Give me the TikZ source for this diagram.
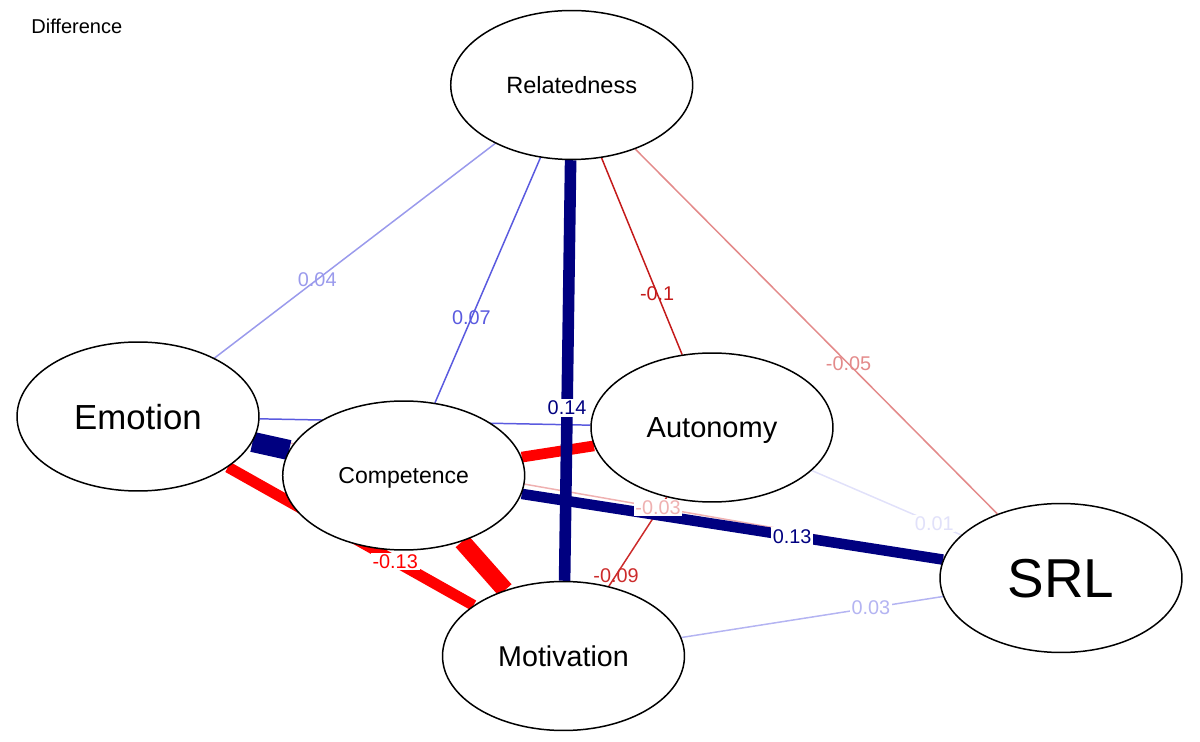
\documentclass[tikz,border=0pt]{standalone}
\usepackage{fontspec}
\setmainfont{Liberation Sans}
\usetikzlibrary{shapes,arrows,positioning,backgrounds}
\definecolor{navyedge}{HTML}{000080}
\definecolor{blue07}{HTML}{5A5ADF}
\definecolor{blue04}{HTML}{9A9AEC}
\definecolor{blue03}{HTML}{B4B4F2}
\definecolor{blue01}{HTML}{E1E1FA}
\definecolor{red10}{HTML}{C41A1A}
\definecolor{red09}{HTML}{CC2B2B}
\definecolor{red05}{HTML}{E38A8A}
\definecolor{red03}{HTML}{EFB1B1}
\definecolor{redfull}{HTML}{FF0000}
\tikzstyle{factor} = [ellipse, draw, fill = white, line width = 0.85pt, minimum width = 4.84cm, minimum height = 2.98cm, inner sep = 0pt, text depth = 0pt]
\tikzstyle{line} = [draw, line width = 0.85pt]
\tikzstyle{weight} = [font = \fontsize{11.3}{13}\selectfont, inner sep = 1pt, text depth = 0pt]
\tikzstyle{boxed weight} = [weight, fill = white]
\begin{document}
\begin{tikzpicture}[x = 0.02cm, y = -0.02cm]
			\useasboundingbox (0, 0) rectangle (1200, 742);
			\node [anchor = west, inner sep = 0pt, text depth = 0pt, font = \fontsize{11.4}{13}\selectfont] (title) at (31, 26) {Difference};
			% Place nodes
			\node [factor, font = \fontsize{13.4}{15}\selectfont] (rel) at (571.7, 85) {Relatedness};
			\node [factor, font = \fontsize{19.8}{22}\selectfont] (emo) at (138, 416.5) {Emotion};
			\node [factor, font = \fontsize{13.1}{15}\selectfont] (com) at (403.7, 475.5) {Competence};
			\node [factor, font = \fontsize{16.5}{19}\selectfont] (aut) at (712, 427.5) {Autonomy};
			\node [factor, font = \fontsize{31.2}{34}\selectfont] (srl) at (1061, 578) {SRL};
			\node [factor, font = \fontsize{16.3}{19}\selectfont] (mot) at (563.5, 656) {Motivation};
			% Draw edges
			\begin{scope}[on background layer]
			\path [line, draw = blue04] (rel) -- node [weight, text = blue04, pos = 0.634] {0.04} (emo);
			\path [line, draw = blue07] (rel) -- node [weight, text = blue07, pos = 0.654] {0.07} (com);
			\path [line, draw = red10] (rel) -- node [weight, text = red10, pos = 0.69] {-0.1} (aut);
			\path [line, draw = red05] (rel) -- node [weight, text = red05, pos = 0.589] {-0.05} (srl);
			\path [line, draw = blue07] (emo) -- (aut);
			\path [line, draw = red09] (aut) -- node [weight, text = red09, pos = 0.875] {-0.09} (mot);
			\path [line, draw = blue01] (aut) -- node [boxed weight, text = blue01, pos = 0.82] {0.01} (srl);
			\path [line, draw = blue03] (mot) -- node [boxed weight, text = blue03, pos = 0.724] {0.03} (srl);
			\path [line, draw = red03] (emo) -- (srl);
			\path [line, draw = redfull, line width = 6.1pt] (com) -- (aut);
			\path [line, draw = navyedge, line width = 6pt] (com) -- node [boxed weight, text = navyedge, pos = 0.642] {0.13} (srl);
			\path [line, draw = redfull, line width = 6.3pt] (emo) -- node [boxed weight, text = redfull, pos = 0.681] {-0.13} (mot);
			\path [line, draw = navyedge, line width = 6.6pt] (rel) -- node [boxed weight, text = navyedge, pos = 0.589] {0.14} (mot);
			\path [line, draw = redfull, line width = 9.8pt] (com) -- (mot);
			\path [line, draw = navyedge, line width = 11.5pt] (emo) -- (com);
			\path (emo) -- node [boxed weight, text = red03, pos = 0.585] {-0.03} (srl);
			\end{scope}
		\end{tikzpicture}
\end{document}
